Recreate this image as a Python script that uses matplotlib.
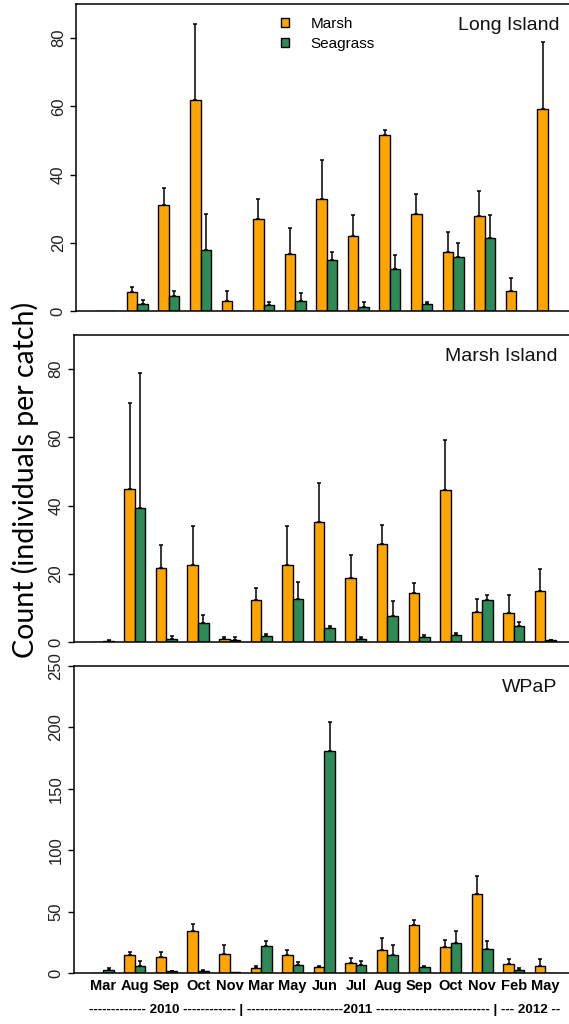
import matplotlib.pyplot as plt
import numpy as np

months = ['Mar', 'Aug', 'Sep', 'Oct', 'Nov', 'Mar', 'May', 'Jun', 'Jul',
          'Aug', 'Sep', 'Oct', 'Nov', 'Feb', 'May']
year_line = ('------------- 2010 ------------ | ----------------------2011 '
             '-------------------------- | --- 2012 --')
sites = ['Long Island', 'Marsh Island', 'WPaP']
habitats = ['Marsh', 'Seagrass']
yticks_small = [0, 20, 40, 60, 80]
yticks_large = [0, 50, 100, 150, 200, 250]

# mean count per catch and standard error (upper bar only)
li_marsh = [0, 5.5, 31.0, 61.9, 2.9, 27.1, 16.7, 32.9, 22.1, 51.5, 28.3, 17.3, 27.9, 6.0, 59.1]
li_marsh_se = [0, 1.6, 5.1, 22.2, 3.1, 5.8, 7.6, 11.3, 5.9, 1.7, 5.9, 5.9, 7.4, 3.8, 19.8]
li_sea = [0, 2.0, 4.4, 17.9, 0, 1.8, 3.0, 15.0, 1.2, 12.3, 2.0, 15.7, 21.3, 0, 0]
li_sea_se = [0, 1.2, 1.6, 10.5, 0, 0.8, 2.3, 2.4, 1.4, 4.1, 0.6, 4.3, 6.7, 0, 0]

mi_marsh = [0.1, 44.9, 21.7, 22.7, 1.0, 12.3, 22.5, 35.1, 18.7, 28.7, 14.4, 44.6, 8.7, 8.4, 15.0]
mi_marsh_se = [0, 25.2, 6.8, 11.2, 0.5, 3.4, 11.4, 11.5, 6.7, 5.6, 3.0, 14.6, 3.8, 5.5, 6.5]
mi_sea = [0.4, 39.3, 1.0, 5.7, 0.7, 1.7, 12.5, 4.0, 1.0, 7.7, 1.4, 2.1, 12.3, 4.8, 0.5]
mi_sea_se = [0.3, 39.5, 0.7, 2.2, 0.7, 0.7, 5.2, 0.6, 0.5, 4.4, 0.6, 0.4, 1.5, 1.1, 0.1]

wp_marsh = [0.3, 14.9, 12.7, 34.4, 15.5, 4.1, 14.9, 4.9, 8.1, 18.7, 39.3, 20.9, 64.3, 7.6, 6.0]
wp_marsh_se = [0, 2.2, 4.7, 5.7, 7.3, 1.3, 4.1, 1.1, 3.8, 9.8, 4.1, 5.7, 14.9, 3.8, 5.4]
wp_sea = [2.7, 5.4, 1.4, 1.9, 1.1, 22.0, 6.8, 181.1, 6.8, 14.9, 4.9, 24.1, 19.5, 2.2, 0]
wp_sea_se = [1.4, 4.1, 0.2, 0.5, 0, 4.3, 2.1, 23.3, 3.0, 7.6, 1.1, 10.3, 6.5, 1.9, 0]

orange = '#FFA500'
green = '#2E8B57'
sans = ['Liberation Sans', 'DejaVu Sans']

W, H = 569, 1024
fig = plt.figure(figsize=(W / 100, H / 100), dpi=100)

# (left px, top px, bottom px, ymax, ticks) for each panel
frames = [(76, 4, 311, 90, yticks_small), (73.5, 335, 642, 90, yticks_small),
          (73.5, 666, 973, 250, yticks_large)]
data = [(li_marsh, li_marsh_se, li_sea, li_sea_se),
        (mi_marsh, mi_marsh_se, mi_sea, mi_sea_se),
        (wp_marsh, wp_marsh_se, wp_sea, wp_sea_se)]

x = np.arange(len(months)) * 3
axes = []
for site, (left, top, bottom, ymax, ticks), (m, m_se, s, s_se) in zip(sites, frames, data):
    ax = fig.add_axes([left / W, 1 - bottom / H, 495 / W, (bottom - top) / H])
    axes.append(ax)
    for vals, se, off, col, lab in [(m, m_se, 1.5, orange, habitats[0]),
                                    (s, s_se, 2.5, green, habitats[1])]:
        vals = np.array(vals)
        se = np.array(se)
        ax.bar(x + off, vals, width=1, color=col, edgecolor='black', linewidth=1.0,
               label=lab, zorder=2)
        keep = se > 0
        ax.errorbar(x[keep] + off, vals[keep],
                    yerr=[np.zeros(keep.sum()), se[keep]],
                    fmt='none', ecolor='black', elinewidth=1.1, capsize=1.5,
                    capthick=1.1, zorder=1)

    ax.set_xlim(-0.83, 46.2)
    ax.set_ylim(0, ymax)
    ax.set_yticks(ticks)
    ax.tick_params(axis='y', length=4.3, width=1.0, labelsize=12, pad=3,
                   labelcolor='#222222', labelrotation=90)
    for t in ax.get_yticklabels():
        t.set_va('center')
        t.set_family(sans)
    ax.spines['right'].set_visible(False)
    for sp in ['left', 'top', 'bottom']:
        ax.spines[sp].set_linewidth(1.1)
    ax.set_xticks([])
    ax.text(0.977, 0.93, site, transform=ax.transAxes, ha='right', va='center',
            fontsize=14, family=sans, color='#111111')

axes[0].legend(loc='upper left', bbox_to_anchor=(0.414, 0.957), frameon=False,
               handlelength=0.55, handleheight=0.55, handletextpad=1.4,
               borderpad=0, borderaxespad=0, labelspacing=0.35,
               prop={'family': sans, 'size': 11})

bottom_ax = axes[-1]
bottom_ax.set_xticks(x + 2, months)
bottom_ax.tick_params(axis='x', length=0, pad=4)
for t in bottom_ax.get_xticklabels():
    t.set_fontsize(10.5)
    t.set_fontweight('bold')
    t.set_family(sans)

fig.text(325 / W, 1 - 1010 / H, year_line, ha='center', va='center', fontsize=9.6,
         fontweight='bold', family=sans)

fig.text(25 / W, 1 - 480 / H, 'Count (individuals per catch)', rotation=90,
         ha='center', va='center', fontsize=20.5, family=['Lato', 'DejaVu Sans'])

fig.savefig('out.png', dpi=100)
